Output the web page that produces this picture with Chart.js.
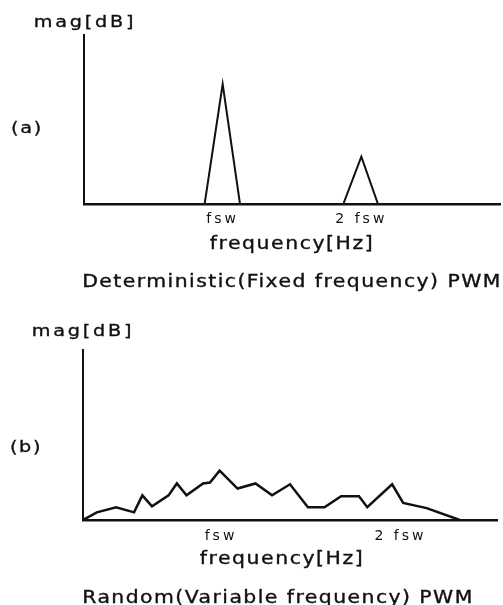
<!DOCTYPE html>
<html>
<head>
<meta charset="utf-8">
<script src="https://cdn.jsdelivr.net/npm/chart.js@4.4.1/dist/chart.umd.min.js"></script>
<style>
  body { margin: 0; background: #fff; }
  #wrap { position: relative; width: 503px; height: 605px; overflow: hidden; font-family: "DejaVu Sans", sans-serif; color: #111; }
  canvas { position: absolute; left: 0; }
  /* the scanned figure uses a wide gothic face: stretch DejaVu a little */
  .lbl { position: absolute; white-space: nowrap; line-height: 1; transform: translate(-50%, -50%) scaleX(1.2); -webkit-text-stroke: 0.35px #111; }
  .cap { font-size: 17px; letter-spacing: 1.2px; }
  .ttl { font-size: 17px; letter-spacing: 1.3px; }
  .mag { font-size: 16px; letter-spacing: 2.3px; }
  .tag { font-size: 16px; letter-spacing: 1.4px; }
</style>
</head>
<body>
<div id="wrap">
  <canvas id="chartA" width="503" height="300" style="top:0"></canvas>
  <canvas id="chartB" width="503" height="305" style="top:300px"></canvas>

  <div class="lbl mag" style="left:85px;top:22px">mag[dB]</div>
  <div class="lbl tag" style="left:27px;top:128px">(a)</div>
  <div class="lbl ttl" style="left:292px;top:243px">frequency[Hz]</div>
  <div class="lbl cap" style="left:292px;top:281px">Deterministic(Fixed frequency) PWM</div>

  <div class="lbl mag" style="left:83px;top:331px">mag[dB]</div>
  <div class="lbl tag" style="left:26px;top:447px">(b)</div>
  <div class="lbl ttl" style="left:282px;top:558px">frequency[Hz]</div>
  <div class="lbl cap" style="left:278px;top:597px">Random(Variable frequency) PWM</div>
</div>
<script>
// x in multiples of fsw, y in relative magnitude (axis top = 10)

// (a) deterministic PWM: two harmonic peaks
const freqA = [0, 0.87, 1.0, 1.125, 1.87, 2.0, 2.12, 3.0];
const magA  = [0, 0,    7.1, 0,     0,    2.8, 0,    0];
const tickValsA = [1.0, 2.0];
const tickLabelsA = ['fsw', '2 fsw'];

// (b) random PWM: spread spectrum
const freqB = [0, 0.10, 0.24, 0.37, 0.43, 0.50, 0.62, 0.68, 0.75, 0.87, 0.92, 0.99, 1.12,
               1.25, 1.37, 1.50, 1.63, 1.75, 1.87, 2.00, 2.06, 2.24, 2.32, 2.49, 2.73];
const magB  = [0, 0.45, 0.75, 0.45, 1.45, 0.80, 1.45, 2.15, 1.45, 2.15, 2.20, 2.90, 1.85,
               2.15, 1.45, 2.10, 0.75, 0.75, 1.40, 1.40, 0.75, 2.10, 1.00, 0.70, 0];
const tickValsB = [1.0, 2.3];
const tickLabelsB = ['fsw', '2 fsw'];

const ink = '#111';

// wide spacing for the tick labels, like the scanned figure
const spacing = {
  id: 'spacing',
  beforeDraw(chart) { chart.ctx.letterSpacing = '3px'; }
};

function panelOptions(pad, tickVals, tickLabels, tickPad) {
  return {
    responsive: false,
    animation: false,
    layout: { padding: pad },
    plugins: { legend: { display: false }, tooltip: { enabled: false } },
    scales: {
      x: {
        type: 'linear',
        min: 0,
        max: 3,
        grid: { display: false, drawTicks: false },
        border: { display: true, color: ink, width: 2.5 },
        afterFit: s => { s.height = 30; },
        afterBuildTicks: s => { s.ticks = tickVals.map(v => ({ value: v })); },
        ticks: {
          padding: tickPad,
          color: ink,
          maxRotation: 0,
          autoSkip: false,
          font: { family: 'DejaVu Sans', size: 14 },
          callback: (v, i) => tickLabels[i]
        }
      },
      y: {
        min: 0,
        max: 10,
        grid: { display: false, drawTicks: false },
        border: { display: true, color: ink, width: 2 },
        ticks: { display: false },
        afterFit: s => { s.width = 0; }
      }
    }
  };
}

function toPoints(xs, ys) {
  return xs.map((x, i) => ({ x: x, y: ys[i] }));
}

new Chart(document.getElementById('chartA').getContext('2d'), {
  type: 'line',
  data: {
    datasets: [{
      data: toPoints(freqA, magA),
      borderColor: ink,
      borderWidth: 2,
      pointRadius: 0,
      fill: false,
      tension: 0
    }]
  },
  options: panelOptions({ left: 84, right: 3, top: 35, bottom: 66 }, tickValsA, tickLabelsA, 7),
  plugins: [spacing]
});

new Chart(document.getElementById('chartB').getContext('2d'), {
  type: 'line',
  data: {
    datasets: [{
      data: toPoints(freqB, magB),
      borderColor: ink,
      borderWidth: 2.5,
      pointRadius: 0,
      fill: false,
      tension: 0
    }]
  },
  options: panelOptions({ left: 83, right: 6, top: 50, bottom: 55 }, tickValsB, tickLabelsB, 8),
  plugins: [spacing]
});
</script>
</body>
</html>
